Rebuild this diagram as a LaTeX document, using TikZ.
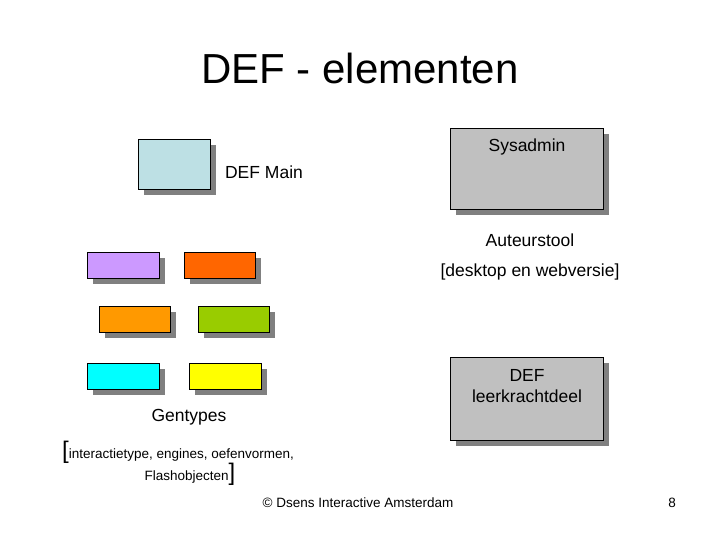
\documentclass[tikz,border=0pt]{standalone}
\usepackage{fontspec}
\setmainfont{Liberation Sans}
\definecolor{cmain}{RGB}{189,224,228}
\definecolor{cpur}{RGB}{204,153,255}
\definecolor{cred}{RGB}{255,102,0}
\definecolor{cora}{RGB}{255,153,0}
\definecolor{cgrn}{RGB}{153,204,0}
\definecolor{ccya}{RGB}{0,255,255}
\definecolor{cyel}{RGB}{255,255,0}
\definecolor{cgry}{RGB}{192,192,192}
\definecolor{cshd}{RGB}{128,128,128}
\begin{document}
\begin{tikzpicture}[x=1pt,y=-1pt,
  box/.style={draw=black,line width=0.8pt},
  shad/.style={fill=cshd},
  lbl/.style={font=\fontsize{17.5}{21}\selectfont,inner sep=0pt},
  sml/.style={font=\fontsize{13.5}{16}\selectfont,inner sep=0pt}]
\useasboundingbox (0,0) rectangle (720,540);
\newcommand{\mybox}[6]{%
  \fill[shad] (#2+6,#3+6) rectangle (#4+6,#5+6);
  \draw[box,fill=#6] (#2,#3) rectangle (#4,#5) coordinate (#1);}
\mybox{main}{138}{139}{210}{189}{cmain}
\mybox{g1}{87}{252}{159}{278}{cpur}
\mybox{g2}{184}{252}{255}{278}{cred}
\mybox{g3}{99}{306}{170}{332}{cora}
\mybox{g4}{198}{306}{269}{332}{cgrn}
\mybox{g5}{87}{363}{159}{389}{ccya}
\mybox{g6}{189}{363}{261}{389}{cyel}
\mybox{sys}{450}{128}{603}{209}{cgry}
\mybox{lk}{450}{357}{603}{440}{cgry}
\node[font=\fontsize{42}{48}\selectfont] (title) at (360,68) {DEF - elementen};
\node[lbl] (t1) at (527,147) {Sysadmin};
\node[lbl] (t2) at (264,172) {DEF Main};
\node[lbl] (t3) at (530,240) {Auteurstool};
\node[lbl] (t4) at (530,272) {[desktop en webversie]};
\node[lbl,align=center] (t5) at (527,386) {DEF\\leerkrachtdeel};
\node[lbl] (t6) at (189,417) {Gentypes};
\node[sml,anchor=west] (t7) at (62,452) {{\fontsize{24}{24}\selectfont[}interactietype, engines, oefenvormen,};
\node[sml] (t8) at (190,474) {Flashobjecten{\fontsize{24}{24}\selectfont]}};
\node[sml] (t9) at (358,503) {© Dsens Interactive Amsterdam};
\node[sml] (t10) at (672,503) {8};
\end{tikzpicture}
\end{document}
